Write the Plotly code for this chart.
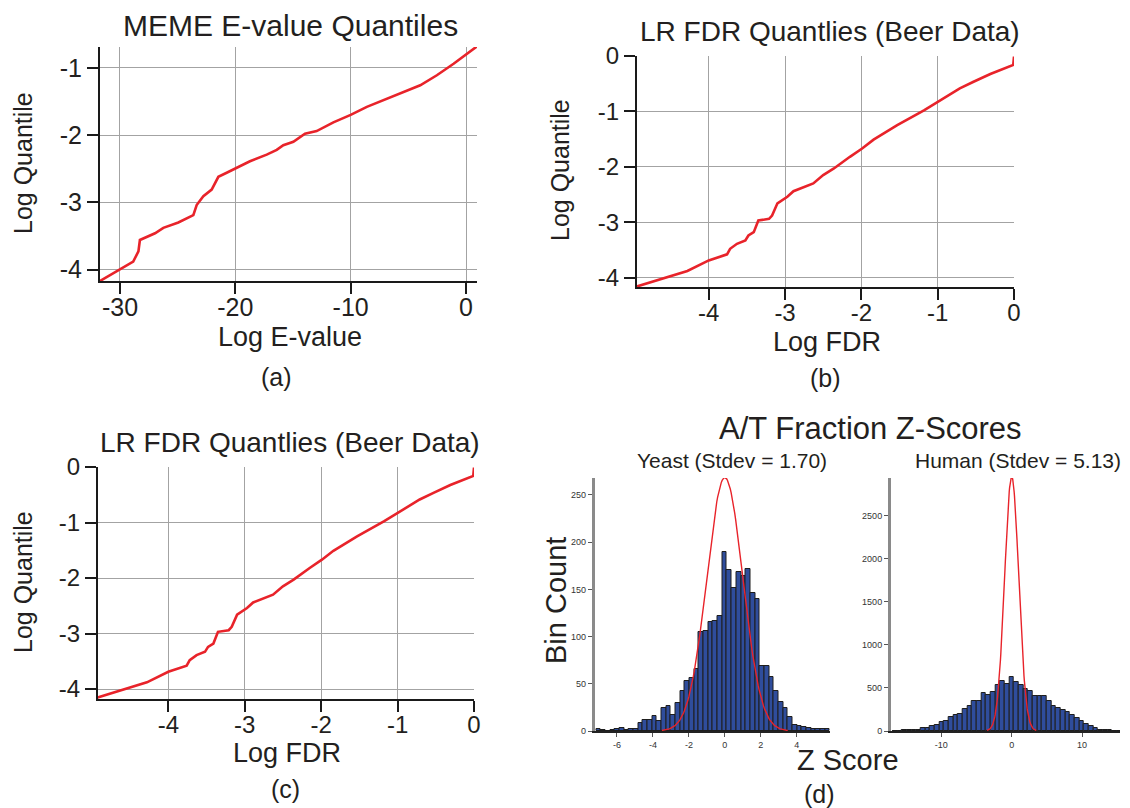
import math
import plotly.graph_objects as go

W, H = 1130, 808
OFF = 8  # the page body adds an 8px margin; compensate so marks land where the reference has them
FONT = "Liberation Sans, Arial, sans-serif"
TXT = "#231f20"
RED = "#e8232a"

# ---------------- data ----------------
# (a) MEME E-value quantiles
meme_log_evalue = [-31.73, -28.85, -28.4, -28.27, -26.96, -26.24, -24.94, -23.64, -23.35, -22.77,
                   -22.05, -21.47, -20.75, -19.88, -18.73, -17.28, -16.41, -15.84, -14.97, -13.96,
                   -12.95, -11.5, -10.0, -8.6, -7.15, -5.7, -3.97, -2.53, -1.08, 0.95]
meme_log_quantile = [-4.17, -3.88, -3.73, -3.56, -3.46, -3.38, -3.30, -3.19, -3.04, -2.91,
                     -2.81, -2.62, -2.56, -2.49, -2.39, -2.29, -2.22, -2.15, -2.10, -1.98,
                     -1.94, -1.81, -1.70, -1.58, -1.48, -1.38, -1.26, -1.11, -0.94, -0.68]

# (b), (c) LR FDR quantiles (Beer data)
fdr_log_fdr = [-4.94, -4.28, -4.0, -3.76, -3.72, -3.63, -3.52, -3.48, -3.41, -3.35,
               -3.21, -3.17, -3.10, -2.97, -2.89, -2.78, -2.63, -2.50, -2.36, -2.15,
               -1.99, -1.84, -1.53, -1.18, -0.97, -0.71, -0.53, -0.31, -0.01, 0.0]
fdr_log_quantile = [-4.16, -3.88, -3.69, -3.58, -3.48, -3.39, -3.33, -3.24, -3.18, -2.97,
                    -2.94, -2.88, -2.66, -2.54, -2.44, -2.38, -2.30, -2.15, -2.03, -1.82,
                    -1.67, -1.51, -1.25, -0.98, -0.80, -0.585, -0.465, -0.325, -0.16, -0.01]

# (d) A/T fraction Z-score histograms
yeast_bin_start = -7.16
yeast_bin_width = 0.26
yeast_counts = [2, 1, 0, 1, 2, 3, 1, 2, 2, 8, 12, 12, 16, 11, 24, 27, 17, 30, 42, 53,
                56, 66, 105, 106, 115, 117, 122, 190, 171, 151, 168, 164, 172, 146, 140, 69,
                69, 57, 42, 31, 24, 15, 6, 5, 4, 3, 2, 2, 2, 2]

human_bin_start = -16.93
human_bin_width = 0.664
human_counts = [3, 5, 6, 9, 12, 16, 31, 31, 62, 70, 109, 121, 160, 191, 203, 261, 292, 343,
                343, 444, 421, 448, 534, 584, 545, 623, 565, 534, 491, 467, 401, 409, 401,
                343, 288, 265, 245, 226, 191, 148, 117, 82, 55, 31, 12, 8, 6, 4, 3]

normal_curve_limit = 3.5  # the fitted N(0,1) curve is drawn over [-3.5, 3.5]

# tick labels
a_xticks = [-30, -20, -10, 0]
a_yticks = [-1, -2, -3, -4]
fdr_xticks = [-4, -3, -2, -1, 0]
fdr_yticks = [0, -1, -2, -3, -4]
yeast_xticks = [-6, -4, -2, 0, 2, 4]
yeast_yticks = [0, 50, 100, 150, 200, 250]
human_xticks = [-10, 0, 10]
human_yticks = [0, 500, 1000, 1500, 2000, 2500]


def lab(vals):
    return [str(v) for v in vals]


def px_x(x):
    return (x - OFF) / W


def px_y(y):
    return 1 - (y - OFF) / H


def centers(start, width, n):
    return [start + width * (i + 0.5) for i in range(n)]


def normal_curve(counts, width, lim, n=141):
    total = sum(counts)
    xs = [-lim + 2 * lim * i / (n - 1) for i in range(n)]
    ys = [total * width * math.exp(-x * x / 2) / math.sqrt(2 * math.pi) for x in xs]
    return xs, ys


fig = go.Figure()

# quantile lines
line_style = dict(color=RED, width=2.6)
fig.add_trace(go.Scatter(x=meme_log_evalue, y=meme_log_quantile, mode="lines", line=line_style,
                         xaxis="x", yaxis="y", showlegend=False))
fig.add_trace(go.Scatter(x=fdr_log_fdr, y=fdr_log_quantile, mode="lines", line=line_style,
                         xaxis="x2", yaxis="y2", showlegend=False, cliponaxis=False))
fig.add_trace(go.Scatter(x=fdr_log_fdr, y=fdr_log_quantile, mode="lines", line=line_style,
                         xaxis="x3", yaxis="y3", showlegend=False, cliponaxis=False))

# histograms
BAR = "#2f4d9c"
fig.add_trace(go.Bar(x=centers(yeast_bin_start, yeast_bin_width, len(yeast_counts)), y=yeast_counts,
                     width=yeast_bin_width, marker=dict(color=BAR, line=dict(color="#1e1e1e", width=1)),
                     xaxis="x4", yaxis="y4", showlegend=False))
gx, gy = normal_curve(yeast_counts, yeast_bin_width, normal_curve_limit)
fig.add_trace(go.Scatter(x=gx, y=gy, mode="lines", line=dict(color=RED, width=1.4),
                         xaxis="x4", yaxis="y4", showlegend=False))

fig.add_trace(go.Bar(x=centers(human_bin_start, human_bin_width, len(human_counts)), y=human_counts,
                     width=human_bin_width, marker=dict(color=BAR, line=dict(color="#1e1e1e", width=1)),
                     xaxis="x5", yaxis="y5", showlegend=False))
hx, hy = normal_curve(human_counts, human_bin_width, normal_curve_limit)
fig.add_trace(go.Scatter(x=hx, y=hy, mode="lines", line=dict(color=RED, width=1.4),
                         xaxis="x5", yaxis="y5", showlegend=False))


def qaxis(domain, rng, ticks, anchor, size, standoff=0):
    return dict(domain=domain, range=rng, anchor=anchor, tickvals=ticks, ticktext=lab(ticks),
                showgrid=True, gridcolor="#a3a3a3", gridwidth=1, zeroline=False, automargin=False,
                showline=True, linecolor="#1a1a1a", linewidth=2.2, ticks="outside",
                ticklen=11, tickwidth=2, tickcolor="#1a1a1a", ticklabelstandoff=standoff,
                tickfont=dict(family=FONT, size=size, color=TXT))


def haxis(domain, rng, ticks, anchor, lcolor, lwidth):
    return dict(domain=domain, range=rng, anchor=anchor, tickvals=ticks, ticktext=lab(ticks),
                showgrid=False, zeroline=False, showline=True, linecolor=lcolor, linewidth=lwidth,
                automargin=False, ticks="outside", ticklen=4, tickwidth=1, tickcolor="#555",
                tickfont=dict(family=FONT, size=9, color="#333"))


layout = dict(
    template="none",
    width=W, height=H, margin=dict(l=0, r=0, t=0, b=0, pad=0), autosize=False,
    paper_bgcolor="white", plot_bgcolor="white", bargap=0,
    xaxis=qaxis([px_x(100), px_x(477)], [-31.73, 0.95], a_xticks, "y", 25, -8),
    yaxis=qaxis([px_y(281), px_y(47)], [-4.17, -0.69], a_yticks, "x", 25),
    xaxis2=qaxis([px_x(637), px_x(1014)], [-4.94, 0.0], fdr_xticks, "y2", 24, -8),
    yaxis2=qaxis([px_y(287), px_y(56)], [-4.17, 0.0], fdr_yticks, "x2", 24),
    xaxis3=qaxis([px_x(98), px_x(474)], [-4.92, 0.0], fdr_xticks, "y3", 24, -8),
    yaxis3=qaxis([px_y(699), px_y(467)], [-4.18, 0.0], fdr_yticks, "x3", 24),
    xaxis4=haxis([px_x(594.5), px_x(830)], [-7.25, 5.85], yeast_xticks, "y4", "#222", 1.5),
    yaxis4=haxis([px_y(731), px_y(478)], [0, 268], yeast_yticks, "x4", "#8a8a8a", 2.5),
    xaxis5=haxis([px_x(890.7), px_x(1120)], [-17.2, 15.4], human_xticks, "y5", "#222", 1.5),
    yaxis5=haxis([px_y(731), px_y(478)], [0, 2940], human_yticks, "x5", "#8a8a8a", 2.5),
)
fig.update_layout(**layout)


def text(t, x, y, size, angle=0):
    fig.add_annotation(text=t, x=px_x(x), y=px_y(y), xref="paper", yref="paper",
                       xanchor="center", yanchor="middle", showarrow=False, textangle=angle,
                       font=dict(family=FONT, size=size, color=TXT))


# panel titles
text("MEME E-value Quantiles", 290, 25, 30)
text("LR FDR Quantlies (Beer Data)", 830, 31, 28)
text("LR FDR Quantlies (Beer Data)", 290, 442, 28)
text("A/T Fraction Z-Scores", 870, 428, 31)
text("Yeast (Stdev = 1.70)", 732, 460, 21)
text("Human (Stdev = 5.13)", 1018, 460, 21)
# axis titles
text("Log E-value", 290, 337, 27)
text("Log Quantile", 23, 163, 25, -90)
text("Log FDR", 827, 342, 27)
text("Log Quantile", 560, 170, 25, -90)
text("Log FDR", 287, 753, 27)
text("Log Quantile", 23, 582, 25, -90)
text("Bin Count", 556, 601, 29, -90)
text("Z Score", 848, 760, 29)
# panel letters
text("(a)", 276, 377, 25)
text("(b)", 825, 378, 25)
text("(c)", 285, 789, 25)
text("(d)", 819, 794, 25)

fig.write_html("out.html")
